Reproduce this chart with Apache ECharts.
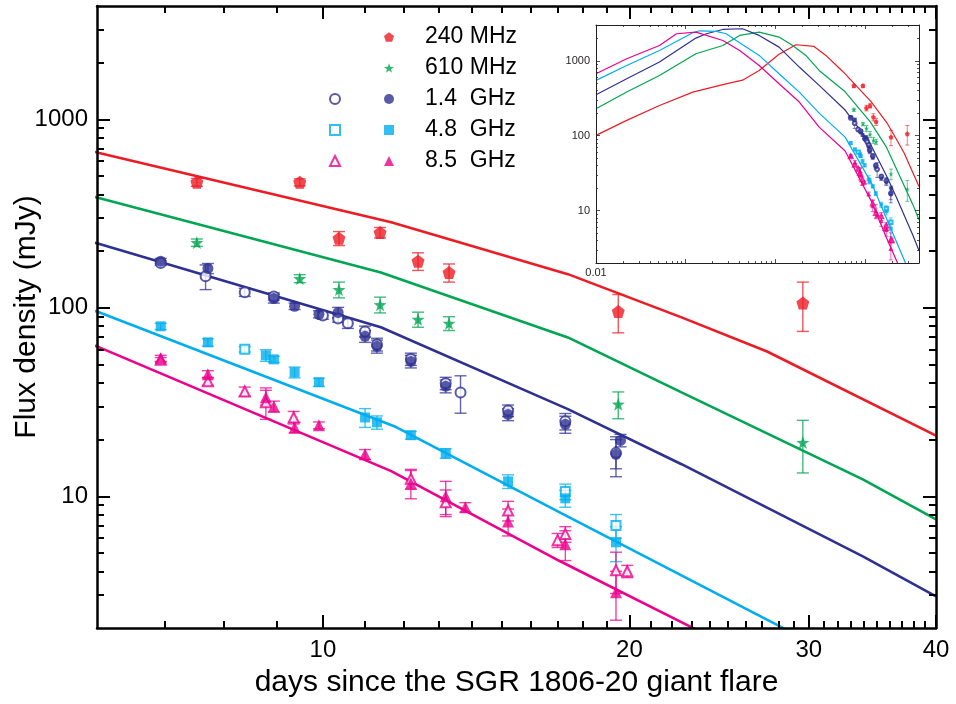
<!DOCTYPE html>
<html>
<head>
<meta charset="utf-8">
<script src="https://cdn.jsdelivr.net/npm/echarts@6/dist/echarts.min.js"></script>
<style>html,body{margin:0;padding:0;background:#fff}#c{width:956px;height:704px}</style>
</head>
<body>
<div id="c"></div>
<script>
// ---------------- DATA ----------------
// 240 MHz (filled pentagons): days, flux (mJy), 1-sigma error (mJy)
const t240 = [7.52, 9.49, 10.37, 11.38, 12.4, 13.3, 19.5, 29.6];
const f240 = [464, 464, 234, 251, 177, 154, 95.7, 106];
const e240 = [22, 20, 20, 16, 19, 17, 22, 31];
// 610 MHz (stars)
const t610 = [7.52, 9.49, 10.37, 11.38, 12.4, 13.3, 19.5, 29.6];
const f610 = [222, 143, 125, 104, 86.9, 82.8, 30.8, 19.3];
const e610 = [10, 7, 12, 10, 8, 7, 5, 6];
// 1.4 GHz filled circles
const t14 = [6.93, 7.71, 8.95, 9.38, 9.91, 10.35, 11.0, 11.3, 12.2, 13.2, 15.2, 17.3, 19.4, 19.6];
const f14 = [177, 162, 112, 102, 92.5, 94.6, 70.6, 62.5, 52, 38.4, 27.2, 24.1, 16.7, 19.8];
const e14 = [6, 10, 6, 4, 4, 6, 5, 5, 4, 3, 2, 2.5, 4, 1.5];
// 1.4 GHz open circles
const t14o = [6.93, 7.67, 8.38, 8.95, 10.0, 10.35, 10.58, 11.0, 11.3, 12.2, 13.2, 13.65, 15.2, 17.3, 19.4];
const f14o = [173, 147, 121, 115, 91, 87.9, 82.8, 75, 64, 53.5, 39.8, 35.6, 28.5, 25, 17];
const e14o = [5, 22, 6, 5, 4, 4, 5, 5, 5, 4, 3, 8, 2, 2.5, 3];
// 4.8 GHz filled squares
const t48 = [6.93, 7.71, 8.79, 8.95, 9.38, 9.91, 11.0, 11.3, 12.2, 13.2, 15.2, 17.3, 19.4];
const f48 = [79.8, 65.6, 56, 53.3, 45.5, 40.3, 26.2, 24.7, 21.1, 16.9, 12.0, 9.75, 5.7];
const e48 = [3, 3, 4, 2, 3, 2, 3, 2, 1, 1, 1, 1, 1.2];
// 4.8 GHz open squares
const t48o = [8.38, 17.3, 19.4];
const f48o = [60.3, 10.6, 7.0];
const e48o = [2, 1, 1.0];
// 8.5 GHz filled triangles
const t85 = [6.93, 7.71, 8.79, 8.95, 9.38, 9.91, 11.0, 12.2, 13.2, 13.8, 15.2, 17.3, 19.4];
const f85 = [54, 44.4, 33.5, 30, 23.2, 23.8, 16.7, 11.7, 10.0, 8.75, 7.36, 5.56, 3.1];
const e85 = [2, 2, 3, 2, 1.5, 1, 1, 2, 2, 0.5, 1.2, 1, 0.9];
// 8.5 GHz open triangles
const t85o = [6.93, 7.71, 8.38, 8.79, 9.36, 12.2, 13.2, 15.2, 17.0, 17.3, 19.4, 19.9];
const f85o = [53, 40.8, 36, 31.6, 26.2, 12.4, 9.3, 8.4, 5.85, 6.3, 4.05, 4.0];
const e85o = [1.5, 2, 2, 6, 2, 1.5, 1.5, 1, 0.5, 0.6, 1.0, 0.3];

// Model light curves (days, mJy)
const mRedT = [0.01, 0.022, 0.051, 0.12, 0.26, 0.43, 0.66, 1.1, 1.7, 2.7, 3.66, 5.14, 6, 11.67, 17.4, 22.5, 27.3, 40];
const mRedF = [101, 160, 253, 382, 479, 550, 740, 1220, 1634, 1552, 1178, 800, 668, 285, 151, 89, 58.7, 21];
const mGreenT = [0.01, 0.022, 0.051, 0.13, 0.26, 0.4, 0.66, 1.1, 1.56, 2.19, 3.08, 6, 11.4, 17.4, 22.5, 33.9, 40];
const mGreenF = [229, 382, 637, 1240, 1600, 2178, 2410, 2070, 1600, 1178, 743, 385, 154, 69.7, 35.6, 12.3, 7.55];
const mBlueT = [0.01, 0.022, 0.051, 0.13, 0.17, 0.26, 0.43, 0.66, 1.1, 1.85, 3.08, 6, 11.4, 17.4, 22.5, 33.9, 40];
const mBlueF = [352, 575, 960, 2006, 2291, 2616, 2673, 2178, 1520, 824, 470, 220, 78.9, 29, 14.8, 4.8, 2.94];
const mCyanT = [0.01, 0.022, 0.051, 0.12, 0.143, 0.219, 0.283, 0.366, 0.66, 1.1, 1.85, 3.08, 6, 11.8, 17.1, 28.2, 40];
const mCyanF = [547, 866, 1373, 2362, 2512, 2460, 2291, 1866, 1178, 671, 382, 200, 95.7, 23.3, 8.2, 2.02, 0.76];
const mMagT = [0.01, 0.022, 0.051, 0.079, 0.13, 0.26, 0.4, 0.66, 1.1, 1.85, 3.08, 6, 11.67, 17.1, 23, 40];
const mMagF = [671, 1063, 1600, 2291, 2410, 1866, 1373, 866, 493, 281, 130, 62.5, 13.6, 4.52, 2.02, 0.43];

// Tick values
const xMajor = [10, 20, 30, 40];
const xMinor = [7, 8, 9, 11, 12, 13, 14, 15, 16, 17, 18, 19, 21, 22, 23, 24, 25, 26, 27, 28, 29, 31, 32, 33, 34, 35, 36, 37, 38, 39];
const yMajor = [10, 100, 1000];
const yMinor = [3, 4, 5, 6, 7, 8, 9, 20, 30, 40, 50, 60, 70, 80, 90, 200, 300, 400, 500, 600, 700, 800, 900, 2000, 3000];
const ixMajor = [0.01, 0.1, 1, 10];
const ixMinor = [0.02, 0.03, 0.04, 0.05, 0.06, 0.07, 0.08, 0.09, 0.2, 0.3, 0.4, 0.5, 0.6, 0.7, 0.8, 0.9, 2, 3, 4, 5, 6, 7, 8, 9, 20, 30];
const ixLabels = [0.01];
const iyMajor = [10, 100, 1000];
const iyMinor = [3, 4, 5, 6, 7, 8, 9, 20, 30, 40, 50, 60, 70, 80, 90, 200, 300, 400, 500, 600, 700, 800, 900, 2000];
const iyLabels = [10, 100, 1000];

const legendNames = ['240 MHz', '610 MHz', '1.4  GHz', '4.8  GHz', '8.5  GHz'];

// ---------------- STYLE ----------------
const FONT = "'Liberation Sans', Arial, Helvetica, sans-serif";
const RED = '#ED1C24', GREEN = '#00A651', NAVY = '#2E3192', CYAN = '#00AEEF', MAG = '#EC008C';
const PENTAGON = 'path://M0,-10L9.51,-3.09L5.88,8.09L-5.88,8.09L-9.51,-3.09Z';
const STAR = 'path://M0,-10L2.35,-3.24L9.51,-3.09L3.8,1.24L5.88,8.09L0,4L-5.88,8.09L-3.8,1.24L-9.51,-3.09L-2.35,-3.24Z';
const SQUARE_P = 'path://M0,0L10,0L10,10L0,10Z';
const TRI_P = 'path://M5,0L10,10L0,10Z';
const CIRC_P = 'path://M5,0A5,5,0,1,1,4.99,0Z';

const pairs = (t, f) => t.map((x, i) => [x, f[i]]);
const triples = (t, f, e) => t.map((x, i) => [x, f[i], e[i]]);

const groups = [
  { id: 'r', name: '240 MHz', t: t240, f: f240, e: e240, color: RED, sym: PENTAGON, size: 13, open: false },
  { id: 'g', name: '610 MHz', t: t610, f: f610, e: e610, color: GREEN, sym: STAR, size: 13, open: false },
  { id: 'bo', name: '1.4 GHz open', t: t14o, f: f14o, e: e14o, color: NAVY, sym: 'emptyCircle', size: 10, open: true },
  { id: 'b', name: '1.4  GHz', t: t14, f: f14, e: e14, color: NAVY, sym: 'circle', size: 11, open: false },
  { id: 'co', name: '4.8 GHz open', t: t48o, f: f48o, e: e48o, color: CYAN, sym: 'emptyRect', size: 9, open: true },
  { id: 'c', name: '4.8  GHz', t: t48, f: f48, e: e48, color: CYAN, sym: 'rect', size: 10, open: false },
  { id: 'mo', name: '8.5 GHz open', t: t85o, f: f85o, e: e85o, color: MAG, sym: 'emptyTriangle', size: 10, open: true },
  { id: 'm', name: '8.5  GHz', t: t85, f: f85, e: e85, color: MAG, sym: 'triangle', size: 12, open: false }
];
const models = [
  { t: mRedT, f: mRedF, color: RED },
  { t: mGreenT, f: mGreenF, color: GREEN },
  { t: mBlueT, f: mBlueF, color: NAVY },
  { t: mCyanT, f: mCyanF, color: CYAN },
  { t: mMagT, f: mMagF, color: MAG }
];

function errSeries(g, xi, yi, cap, lw, suffix) {
  return {
    type: 'custom', name: 'err ' + g.id + suffix, xAxisIndex: xi, yAxisIndex: yi, silent: true, z: 3,
    data: triples(g.t, g.f, g.e),
    renderItem: function (params, api) {
      const x = api.value(0), y = api.value(1), e = api.value(2);
      const hi = api.coord([x, y + e]);
      const lo = api.coord([x, Math.max(y - e, 1e-6)]);
      const st = { stroke: g.color, lineWidth: lw, opacity: 0.75 };
      const h = cap / 2;
      return { type: 'group', children: [
        { type: 'line', shape: { x1: hi[0], y1: hi[1], x2: lo[0], y2: lo[1] }, style: st },
        { type: 'line', shape: { x1: hi[0] - h, y1: hi[1], x2: hi[0] + h, y2: hi[1] }, style: st },
        { type: 'line', shape: { x1: lo[0] - h, y1: lo[1], x2: lo[0] + h, y2: lo[1] }, style: st }
      ] };
    }
  };
}

function buildSeries(xi, yi, inset) {
  const out = [];
  models.forEach((m, k) => out.push({
    type: 'line', name: (inset ? 'inset model ' : 'model ') + k, xAxisIndex: xi, yAxisIndex: yi,
    data: pairs(m.t, m.f), symbol: 'none', smooth: false, silent: true, z: 2,
    lineStyle: { color: m.color, width: inset ? 1.2 : 2.6 }
  }));
  groups.forEach(g => {
    out.push(errSeries(g, xi, yi, inset ? 4 : 12, inset ? 0.8 : 1.4, inset ? ' inset' : ''));
    out.push({
      type: 'scatter', name: inset ? 'inset ' + g.id : g.name, xAxisIndex: xi, yAxisIndex: yi,
      data: pairs(g.t, g.f), symbol: g.sym,
      symbolSize: inset ? Math.max(3, g.size * 0.38) : g.size,
      silent: true, z: g.open ? 4 : 5,
      itemStyle: g.open ? { color: g.color, borderColor: g.color, borderWidth: inset ? 0.8 : 1.4 } : { color: g.color }
    });
  });
  return out;
}

function ax(o) {
  return {
    type: 'log', logBase: 10, gridIndex: o.grid, position: o.pos, min: o.min, max: o.max,
    silent: true, z: o.z || 6,
    axisLine: { show: !!o.line, onZero: false, lineStyle: { color: o.color || '#000', width: o.lineW || 2.5 } },
    axisTick: { show: true, inside: true, length: o.len, customValues: o.ticks,
      lineStyle: { color: o.color || '#000', width: o.tickW || 2 } },
    axisLabel: o.labels ? {
      show: true, customValues: o.labels, color: o.color || '#000', fontSize: o.fs, fontFamily: FONT, margin: o.margin,
      formatter: function (v) { const n = Number(v); return n < 0.1 ? n.toFixed(2) : String(Math.round(n)); }
    } : { show: false },
    splitLine: { show: false }, minorTick: { show: false }, minorSplitLine: { show: false },
    name: o.name || '', nameLocation: 'middle', nameGap: o.nameGap || 0, nameMoveOverlap: false,
    nameTextStyle: { fontSize: o.nameFs || 12, color: '#000', fontFamily: FONT }
  };
}

const IC = '#231f20';
const xAxes = [
  ax({ grid: 0, pos: 'bottom', min: 6, max: 40, line: true, len: 13, ticks: xMajor, labels: xMajor, fs: 24, margin: 10,
       name: 'days since the SGR 1806-20 giant flare', nameGap: 40, nameFs: 30 }),
  ax({ grid: 0, pos: 'bottom', min: 6, max: 40, len: 7, ticks: xMinor }),
  ax({ grid: 0, pos: 'top', min: 6, max: 40, line: true, len: 13, ticks: xMajor }),
  ax({ grid: 0, pos: 'top', min: 6, max: 40, len: 7, ticks: xMinor }),
  ax({ grid: 1, pos: 'bottom', min: 0.01, max: 40, line: true, lineW: 1, tickW: 0.8, color: IC, len: 4, ticks: ixMajor, labels: ixLabels, fs: 11, margin: 4 }),
  ax({ grid: 1, pos: 'bottom', min: 0.01, max: 40, len: 2, tickW: 0.8, color: IC, ticks: ixMinor }),
  ax({ grid: 1, pos: 'top', min: 0.01, max: 40, line: true, lineW: 1, tickW: 0.8, color: IC, len: 4, ticks: ixMajor }),
  ax({ grid: 1, pos: 'top', min: 0.01, max: 40, len: 2, tickW: 0.8, color: IC, ticks: ixMinor })
];
const yAxes = [
  ax({ grid: 0, pos: 'left', min: 2, max: 4000, line: true, len: 13, ticks: yMajor, labels: yMajor, fs: 24, margin: 9,
       name: 'Flux density (mJy)', nameGap: 55, nameFs: 30 }),
  ax({ grid: 0, pos: 'left', min: 2, max: 4000, len: 7, ticks: yMinor }),
  ax({ grid: 0, pos: 'right', min: 2, max: 4000, line: true, len: 13, ticks: yMajor }),
  ax({ grid: 0, pos: 'right', min: 2, max: 4000, len: 7, ticks: yMinor }),
  ax({ grid: 1, pos: 'left', min: 2, max: 3000, line: true, lineW: 1, tickW: 0.8, color: IC, len: 4, ticks: iyMajor, labels: iyLabels, fs: 11, margin: 6 }),
  ax({ grid: 1, pos: 'left', min: 2, max: 3000, len: 2, tickW: 0.8, color: IC, ticks: iyMinor }),
  ax({ grid: 1, pos: 'right', min: 2, max: 3000, line: true, lineW: 1, tickW: 0.8, color: IC, len: 4, ticks: iyMajor }),
  ax({ grid: 1, pos: 'right', min: 2, max: 3000, len: 2, tickW: 0.8, color: IC, ticks: iyMinor })
];

const legendIcon = { '240 MHz': PENTAGON, '610 MHz': STAR, '1.4  GHz': CIRC_P, '4.8  GHz': SQUARE_P, '8.5  GHz': TRI_P };

const option = {
  animation: false,
  backgroundColor: '#fff',
  textStyle: { fontFamily: FONT },
  grid: [
    { left: 97, top: 6, width: 839, height: 622, show: false, containLabel: false, outerBoundsMode: 'none' },
    { left: 596, top: 25, width: 323, height: 238, show: true, backgroundColor: '#fff', borderWidth: 0, z: 1,
      containLabel: false, outerBoundsMode: 'none' }
  ],
  xAxis: xAxes,
  yAxis: yAxes,
  legend: [
    {
      orient: 'vertical', left: 384, top: 25, padding: 0, itemGap: 7, itemWidth: 10, itemHeight: 10,
      selectedMode: false, symbolKeepAspect: true,
      textStyle: { fontSize: 23, lineHeight: 24, color: '#000', fontFamily: FONT, padding: [0, 0, 0, 26] },
      data: legendNames.map(n => ({ name: n, icon: legendIcon[n] }))
    },
    {
      orient: 'vertical', left: 329, top: 87, padding: 0, itemGap: 7, itemWidth: 10, itemHeight: 10,
      selectedMode: false, formatter: function () { return ' '; },
      textStyle: { fontSize: 23, lineHeight: 24, color: '#000', fontFamily: FONT },
      data: [
        { name: '1.4 GHz open', icon: 'emptyCircle' },
        { name: '4.8 GHz open', icon: 'emptyRect' },
        { name: '8.5 GHz open', icon: 'emptyTriangle' }
      ]
    }
  ],
  series: buildSeries(0, 0, false).concat(buildSeries(4, 4, true))
};

const chart = echarts.init(document.getElementById('c'), null, { renderer: 'canvas' });
chart.setOption(option);
</script>
</body>
</html>
